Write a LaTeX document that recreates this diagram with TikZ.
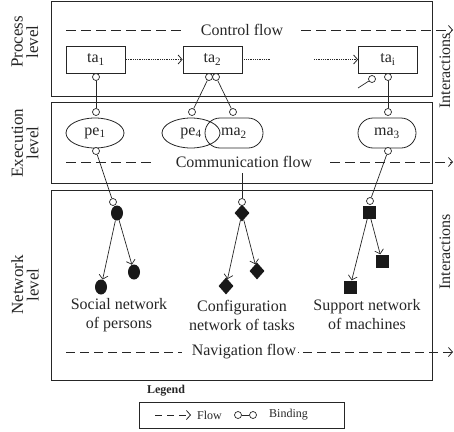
\documentclass[tikz,border=0pt]{standalone}
\usepackage{fontspec}
\setmainfont{Liberation Serif}
\usetikzlibrary{arrows.meta,shapes.geometric,shapes.misc}

\begin{document}
\begin{tikzpicture}[x=1pt,y=-1pt,
  every node/.style={font=\fontsize{16}{19}\selectfont, text=black!85},
  frame/.style={draw=black!85, line width=1pt},
  task/.style={draw=black!85, line width=0.8pt, minimum width=59pt, minimum height=27pt, inner sep=0pt},
  actor/.style={draw=black!85, line width=0.8pt, ellipse, minimum width=58pt, minimum height=30pt, inner sep=0pt},
  machine/.style={draw=black!85, line width=0.8pt, rounded rectangle, minimum width=58pt, minimum height=30pt, inner sep=0pt},
  bind/.style={draw=black!85, fill=white, circle, line width=0.7pt, minimum size=7pt, inner sep=0pt},
  link/.style={draw=black!85, line width=0.7pt},
  flowline/.style={draw=black!85, line width=0.8pt, dash pattern=on 10pt off 5pt},
  flowtip/.style={-{Straight Barb[length=4pt,width=9pt]}},
  seq/.style={draw=black!85, line width=0.8pt, densely dotted, -{Straight Barb[length=4pt,width=9pt]}},
  edge/.style={draw=black!85, line width=0.7pt, -{Straight Barb[length=4pt,width=9pt]}},
  pnode/.style={fill=black!90, ellipse, minimum width=12pt, minimum height=15pt, inner sep=0pt},
  dnode/.style={fill=black!90, diamond, minimum width=15pt, minimum height=17pt, inner sep=0pt},
  snode/.style={fill=black!90, rectangle, minimum size=13pt, inner sep=0pt},
  side/.style={rotate=90, align=center, inner sep=1pt, font=\fontsize{17}{15.5}\selectfont},
  netlabel/.style={align=center, font=\fontsize{16}{19}\selectfont},
]
\useasboundingbox (0,0) rectangle (454,431);

% level frames
\node[frame, minimum width=381pt, minimum height=95pt, inner sep=0pt] (proc) at (241.5,48.5) {};
\node[frame, minimum width=381pt, minimum height=81pt, inner sep=0pt] (exec) at (241.5,142.5) {};
\node[frame, minimum width=381pt, minimum height=190pt, inner sep=0pt] (net) at (241.5,285) {};

% level names
\node[side] (lproc) at (25,42) {Process\\level};
\node[side] (lexec) at (25,143) {Execution\\level};
\node[side] (lnet) at (25,285) {Network\\level};
\node[side, font=\fontsize{16}{19}\selectfont] (iup) at (445,71) {Interactions};
\node[side, font=\fontsize{16}{19}\selectfont] (idown) at (445,252) {Interactions};

% control flow
\node (cf) at (242,30) {Control flow};
\coordinate (cfa) at (66,30);
\coordinate (cfb) at (183,30);
\coordinate (cfc) at (301,30);
\coordinate (cfd) at (453,30);
\draw[flowline] (cfa) -- (cfb);
\draw[flowline, flowtip] (cfc) -- (cfd);

% tasks
\node[task] (ta1) at (96,59.5) {ta\textsubscript{1}};
\node[task] (ta2) at (212.5,59.5) {ta\textsubscript{2}};
\node[task] (tai) at (388,59.5) {ta\textsubscript{i}};
\coordinate (sq1) at (271,59.5);
\coordinate (sq2) at (314,59.5);
\draw[seq] (ta1) -- (ta2);
\draw[seq, -] (ta2) -- (sq1);
\draw[seq] (sq2) -- (tai);

% execution entities
\node[actor] (pe1) at (95,133) {pe\textsubscript{1}};
\node[actor] (pe4) at (191,133) {pe\textsubscript{4}};
\node[machine] (ma2) at (234,133) {ma\textsubscript{2}};
\node[machine] (ma3) at (387,133) {ma\textsubscript{3}};

% communication flow
\node (comm) at (244,162) {Communication flow};
\coordinate (cma) at (66,162);
\coordinate (cmb) at (152,162);
\coordinate (cmc) at (330,162);
\coordinate (cmd) at (453,162);
\coordinate (cmfoot) at (242,173);
\draw[flowline] (cma) -- (cmb);
\draw[flowline, flowtip] (cmc) -- (cmd);

% network entities
\node[pnode] (sp) at (117,213) {};
\node[pnode] (sc1) at (101,287) {};
\node[pnode] (sc2) at (134,272) {};
\node[dnode] (cp) at (242,213) {};
\node[dnode] (cc1) at (226,286) {};
\node[dnode] (cc2) at (257,271) {};
\node[snode] (mp) at (369,212) {};
\node[snode] (mc1) at (350,287) {};
\node[snode] (mc2) at (382,261) {};
\draw[edge] (sp) -- (sc1);
\draw[edge] (sp) -- (sc2);
\draw[edge] (cp) -- (cc1);
\draw[edge] (cp) -- (cc2);
\draw[edge] (mp) -- (mc1);
\draw[edge] (mp) -- (mc2);

\node[netlabel] (lsoc) at (119,315) {Social network\\of persons};
\node[netlabel] (lconf) at (242,315) {Configuration\\network of tasks};
\node[netlabel] (lsup) at (367,315) {Support network\\of machines};

% navigation flow
\node (nav) at (244,352) {Navigation flow};
\coordinate (nva) at (66,352);
\coordinate (nvb) at (182,352);
\coordinate (nvdot) at (298,352);
\coordinate (nvc) at (303,352);
\coordinate (nvd) at (453,352);
\draw[flowline, dash pattern=on 9pt off 5pt] (nva) -- (nvb);
\draw[flowline, solid] (nvdot) -- ++(1.2,0);
\draw[flowline, dash pattern=on 9pt off 5pt, flowtip] (nvc) -- (nvd);

% bindings
\node[bind] (b1a) at (96,77) {};
\node[bind] (b1b) at (96,112) {};
\node[bind] (b1c) at (96,151) {};
\node[bind] (b2a) at (209,77) {};
\node[bind] (b2b) at (216,77) {};
\node[bind] (b4) at (192,112) {};
\node[bind] (bm2) at (233,112) {};
\node[bind] (bia) at (372,79) {};
\node[bind] (bib) at (388,77) {};
\node[bind] (bm3a) at (388,112) {};
\node[bind] (bm3b) at (388,151) {};
\node[bind] (bsoc) at (113,202) {};
\node[bind] (bconf) at (242,202) {};
\node[bind] (bsup) at (370,201) {};
\coordinate (bfree) at (358,88);

\draw[link] (b1a) -- (b1b);
\draw[link] (b2a) -- (b4);
\draw[link] (b2b) -- (bm2);
\draw[link] (bia) -- (bfree);
\draw[link] (bib) -- (bm3a);
\draw[link] (b1c) -- (bsoc);
\draw[link] (cmfoot) -- (bconf);
\draw[link] (bm3b) -- (bsup);

% legend
\node[font=\fontsize{12}{14}\selectfont\bfseries] (legtitle) at (166,391) {Legend};
\node[draw=black!85, line width=0.8pt, minimum width=205pt, minimum height=26pt, inner sep=0pt] (legbox) at (241.5,415) {};
\coordinate (lfa) at (155,415);
\coordinate (lfb) at (191,415);
\draw[flowline, dash pattern=on 7pt off 5pt, flowtip] (lfa) -- (lfb);
\node[anchor=west, font=\fontsize{12}{14}\selectfont, inner sep=0pt] (lflow) at (197,415) {Flow};
\node[bind] (lba) at (238,415) {};
\node[bind] (lbb) at (253,415) {};
\draw[link] (lba) -- (lbb);
\node[anchor=west, font=\fontsize{12}{14}\selectfont, inner sep=0pt] (lbind) at (269,415) {Binding};
\end{tikzpicture}
\end{document}
